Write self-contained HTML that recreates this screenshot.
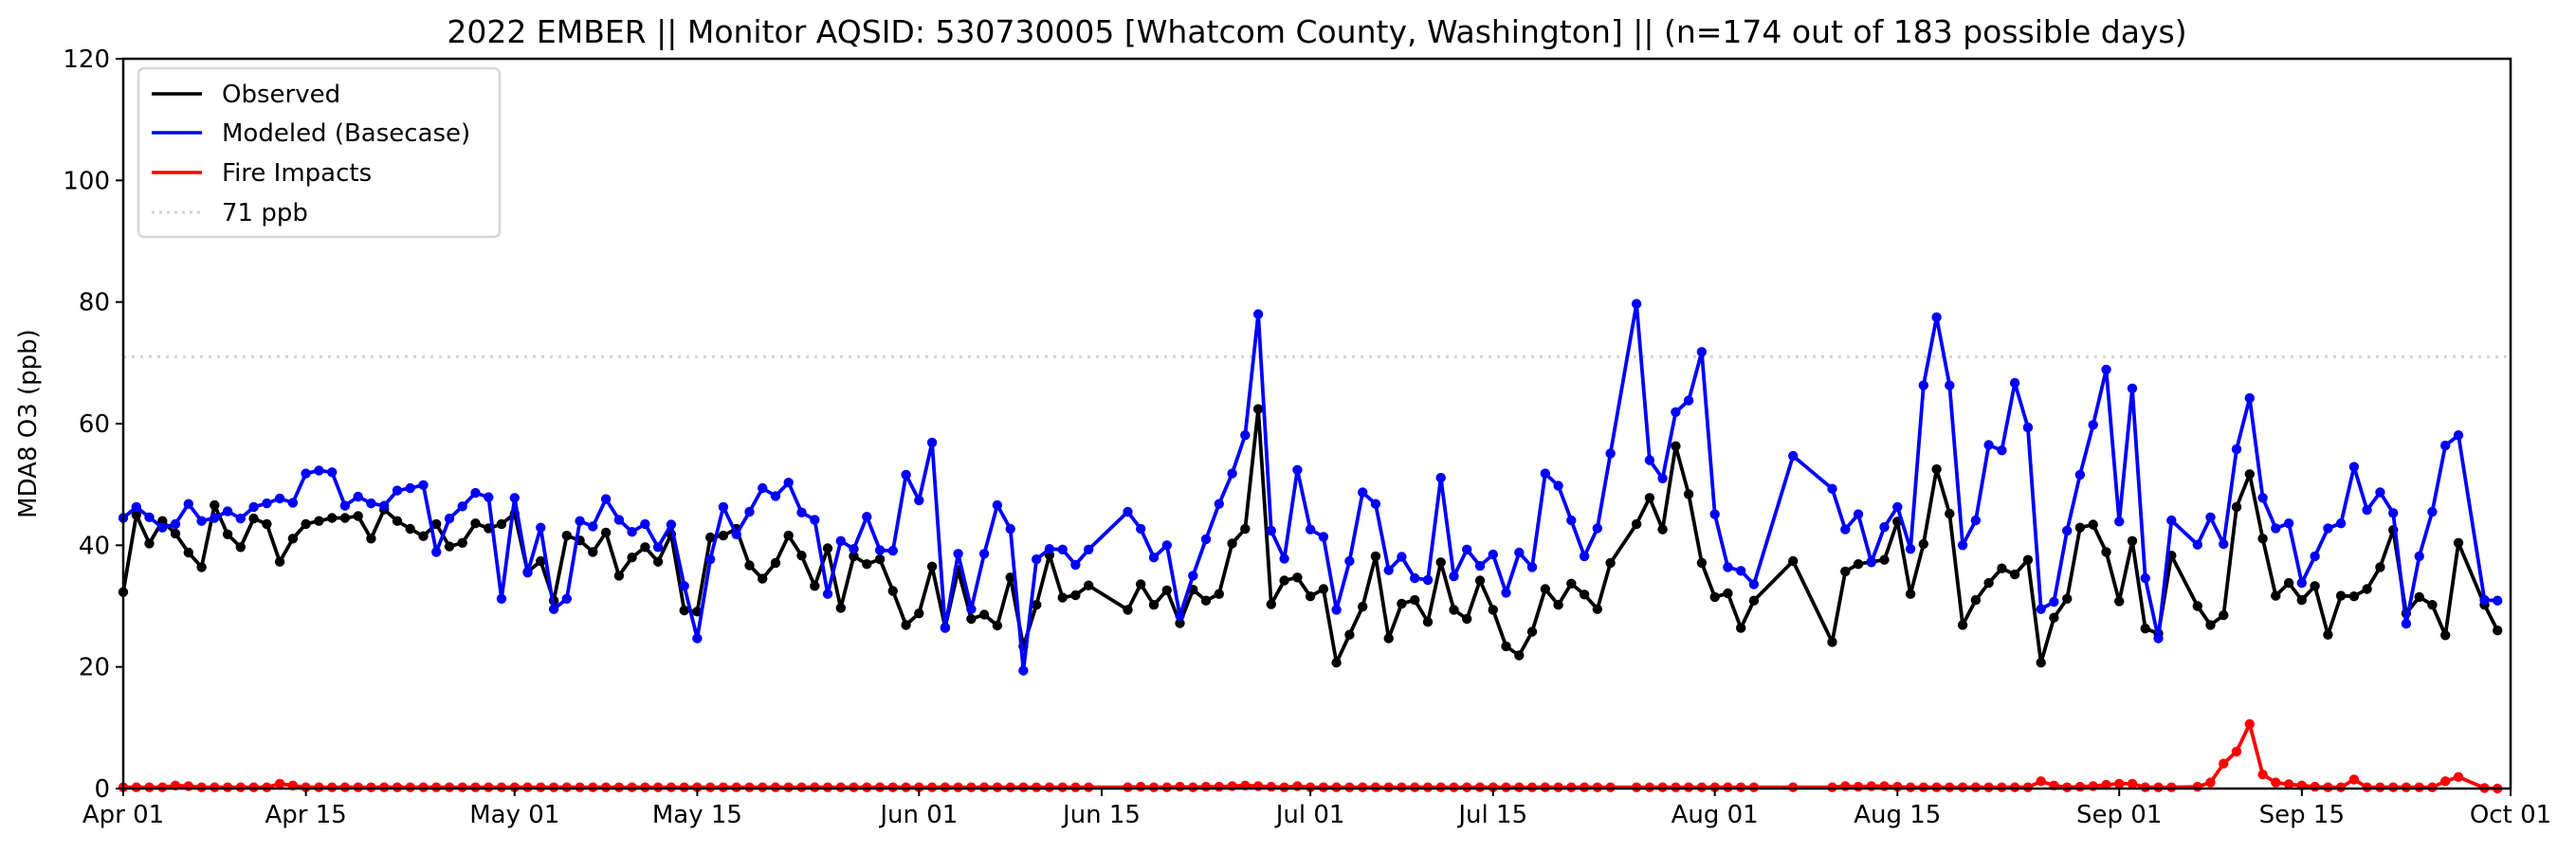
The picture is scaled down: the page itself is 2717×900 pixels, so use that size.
<!DOCTYPE html>
<html><head><meta charset="utf-8"><style>
html,body{margin:0;padding:0;background:#fff;}
svg{display:block;font-family:"DejaVu Sans","Liberation Sans",sans-serif;}
</style></head><body>
<svg id="chart" width="2717" height="900" viewBox="0 0 2717 900" xmlns="http://www.w3.org/2000/svg">
<rect x="0" y="0" width="2717" height="900" fill="#fff"/>
<text x="1389" y="45" font-size="33" text-anchor="middle">2022 EMBER || Monitor AQSID: 530730005 [Whatcom County, Washington] || (n=174 out of 183 possible days)</text>
<g id="plot"></g>
<text transform="translate(38,447) rotate(-90)" font-size="26" text-anchor="middle">MDA8 O3 (ppb)</text>
<g>
<rect x="146" y="72" width="381" height="178" rx="6" fill="#fff" fill-opacity="0.9" stroke="#d6d6d6" stroke-width="2.5"/>
<line x1="160" y1="99" x2="213" y2="99" stroke="#000" stroke-width="3.5"/>
<text x="234" y="108" font-size="26">Observed</text>
<line x1="160" y1="140" x2="213" y2="140" stroke="#0000ff" stroke-width="3.5"/>
<text x="234" y="149" font-size="26">Modeled (Basecase)</text>
<line x1="160" y1="182" x2="213" y2="182" stroke="#ff0000" stroke-width="3.5"/>
<text x="234" y="191" font-size="26">Fire Impacts</text>
<line x1="160" y1="224" x2="213" y2="224" stroke="#d3d3d3" stroke-width="3" stroke-dasharray="3,5"/>
<text x="234" y="233" font-size="26">71 ppb</text>
</g>
</svg>
<script>
const N=null;
const observed=[32.3,45,40.3,44,41.9,38.8,36.4,46.6,41.8,39.7,44.4,43.5,37.3,41.1,43.5,44,44.5,44.5,44.8,41.1,45.9,44,42.7,41.5,43.5,39.8,40.4,43.6,42.8,43.5,45.2,35.6,37.4,30.9,41.6,40.8,38.9,42.1,35,38,39.7,37.3,41.8,29.3,29.1,41.3,
41.6,42.7,36.7,34.5,37.1,41.6,38.3,33.3,39.5,29.7,38.2,36.9,37.7,32.5,26.9,28.8,36.5,26.5,35.9,27.9,28.6,26.8,34.7,23.4,30.2,38.4,31.4,31.8,33.4,N,N,29.4,33.6,30.2,32.6,27.2,32.7,30.9,32,40.3,42.7,62.4,30.3,34.2,34.7,
31.6,32.8,20.7,25.3,29.9,38.2,24.7,30.4,31,27.4,37.2,29.4,27.9,34.2,29.4,23.4,21.9,25.8,32.8,30.2,33.7,31.9,29.5,37.1,N,43.5,47.8,42.6,56.3,48.4,37.1,31.5,32.1,26.4,30.9,N,N,37.4,N,N,24.1,35.7,36.9,37.3,37.6,
43.9,32,40.2,52.5,45.2,26.9,31,33.8,36.2,35.2,37.6,20.7,28.1,31.2,42.9,43.4,38.9,30.8,40.7,26.3,25.5,38.3,N,30,26.9,28.5,46.3,51.7,41.1,31.7,33.8,31,33.3,25.3,31.7,31.6,32.8,36.4,42.5,28.8,31.5,30.2,25.2,40.4,N,30.2,26];
const modeled=[44.5,46.3,44.6,42.9,43.5,46.8,44,44.5,45.6,44.4,46.3,46.9,47.7,47,51.8,52.3,52,46.5,48,46.9,46.5,49,49.4,49.9,38.9,44.4,46.4,48.6,47.9,31.2,47.8,35.5,42.9,29.5,31.2,44,43.1,47.6,44.2,42.2,43.5,39.7,43.4,33.3,24.7,37.7,
46.3,41.8,45.5,49.4,48.1,50.3,45.4,44.2,32,40.7,39.4,44.7,39.2,39.1,51.6,47.4,56.9,26.4,38.6,29.5,38.6,46.6,42.7,19.4,37.7,39.4,39.3,36.8,39.3,N,N,45.5,42.7,38,40,28.4,35,41,46.8,51.8,58.1,78,42.4,37.8,52.4,
42.6,41.4,29.4,37.4,48.7,46.8,35.9,38.1,34.6,34.3,51.1,34.9,39.3,36.6,38.5,32.2,38.8,36.4,51.8,49.8,44.1,38.2,42.8,55.1,N,79.7,54,51,61.9,63.8,71.8,45.1,36.4,35.8,33.6,N,N,54.7,N,N,49.3,42.6,45.1,37.2,43,
46.3,39.4,66.3,77.5,66.3,40,44.1,56.5,55.6,66.7,59.4,29.5,30.7,42.4,51.6,59.8,68.9,43.9,65.8,34.6,24.7,44.1,N,40.1,44.6,40.2,55.8,64.2,47.8,42.8,43.6,33.8,38.2,42.8,43.6,52.9,45.8,48.7,45.3,27.1,38.2,45.5,56.4,58.1,N,31,30.9];
const fire=[0.2,0.2,0.2,0.2,0.5,0.4,0.2,0.2,0.2,0.2,0.2,0.2,0.8,0.5,0.2,0.2,0.2,0.2,0.2,0.2,0.2,0.2,0.2,0.2,0.2,0.2,0.2,0.2,0.2,0.2,0.2,0.2,0.2,0.2,0.2,0.2,0.2,0.2,0.2,0.2,0.2,0.2,0.2,0.2,0.2,0.2,
0.2,0.2,0.2,0.2,0.2,0.2,0.2,0.2,0.2,0.2,0.2,0.2,0.2,0.2,0.2,0.2,0.2,0.2,0.2,0.2,0.2,0.2,0.2,0.2,0.2,0.2,0.2,0.2,0.2,N,N,0.2,0.3,0.2,0.2,0.3,0.2,0.3,0.3,0.4,0.5,0.4,0.3,0.2,0.4,
0.2,0.2,0.2,0.2,0.2,0.2,0.2,0.2,0.2,0.2,0.2,0.2,0.2,0.2,0.2,0.2,0.2,0.2,0.2,0.2,0.2,0.2,0.2,0.2,N,0.2,0.2,0.2,0.2,0.2,0.2,0.2,0.2,0.2,0.2,N,N,0.2,N,N,0.2,0.4,0.3,0.4,0.4,
0.3,0.2,0.2,0.2,0.2,0.2,0.2,0.2,0.2,0.2,0.2,1.2,0.5,0.2,0.3,0.4,0.6,0.8,0.8,0.2,0.2,0.2,N,0.3,1.0,4.1,6.1,10.6,2.3,1.0,0.7,0.5,0.3,0.2,0.2,1.5,0.2,0.2,0.2,0.2,0.2,0.2,1.2,1.9,N,0.1,0];
const yTicks=[0,20,40,60,80,100,120];
const xTickDays=[0,14,30,44,61,75,91,105,122,136,153,167,183];
const xTickLabels=["Apr 01","Apr 15","May 01","May 15","Jun 01","Jun 15","Jul 01","Jul 15","Aug 01","Aug 15","Sep 01","Sep 15","Oct 01"];
const threshold=71;

const L=130,R=2648,T=62,B=832,NDAYS=183;
const xs=d=>L+d*(R-L)/NDAYS;
const ys=v=>B-v*(B-T)/120;
const NS="http://www.w3.org/2000/svg";
const g=document.getElementById('plot');
function mk(tag,attrs,parent){const e=document.createElementNS(NS,tag);for(const k in attrs)e.setAttribute(k,attrs[k]);(parent||g).appendChild(e);return e;}

const th=mk('line',{x1:L,x2:R,y1:ys(threshold),y2:ys(threshold),stroke:'#d3d3d3','stroke-width':3,'stroke-dasharray':'3,6'});



function series(vals,color,name){
  const grp=mk('g',{});
  
  
  let pts=[];
  vals.forEach((v,i)=>{if(v!==null)pts.push(xs(i).toFixed(1)+','+ys(v).toFixed(1));});
  const pl=mk('polyline',{points:pts.join(' '),fill:'none',stroke:color,'stroke-width':3.8,'stroke-linejoin':'round'},grp);
  
  
  vals.forEach((v,i)=>{if(v===null)return;
    const c=mk('circle',{cx:xs(i).toFixed(1),cy:ys(v).toFixed(1),r:5.2,fill:color},grp);
    
    
  });
}
series(observed,'#000000','observed');
series(modeled,'#0000ff','modeled');
series(fire,'#ff0000','fire');

const frame=mk('rect',{x:L,y:T,width:R-L,height:B-T,fill:'none',stroke:'#000','stroke-width':2.5});



yTicks.forEach(v=>{
  const t=mk('line',{x1:L-8,x2:L,y1:ys(v),y2:ys(v),stroke:'#000','stroke-width':2});
  
  
  const tx=mk('text',{x:L-14,y:ys(v)+9,'font-size':26,'text-anchor':'end'});
  tx.textContent=v;
  
  
});
xTickDays.forEach((d,i)=>{
  const t=mk('line',{x1:xs(d),x2:xs(d),y1:B,y2:B+8,stroke:'#000','stroke-width':2});
  
  
  const tx=mk('text',{x:xs(d),y:B+36,'font-size':26,'text-anchor':'middle'});
  tx.textContent=xTickLabels[i];
  
  
});
</script>
</body></html>
